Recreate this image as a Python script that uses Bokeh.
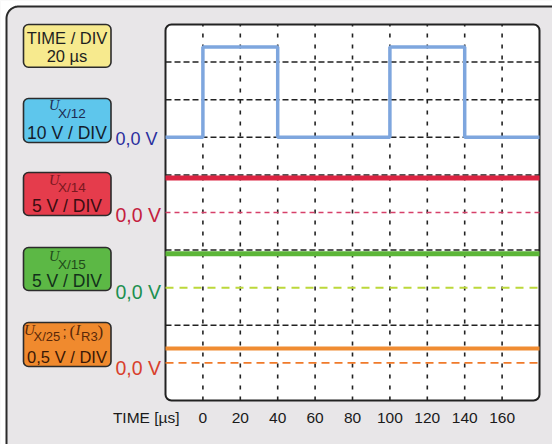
import math
from bokeh.plotting import figure
from bokeh.models import Range1d
from bokeh.core.properties import value
from bokeh.embed import file_html
from bokeh.resources import INLINE

# ---------------- data ----------------
time_ticks = [0, 20, 40, 60, 80, 100, 120, 140, 160]          # µs
time_tick_labels = ["0", "20", "40", "60", "80", "100", "120", "140", "160"]
t_min, t_max = -20, 180                                         # µs, screen span
time_per_div = 20                                               # µs / DIV

# channel U_X/12 (square wave)
u_x12_t = [-20, 0, 40, 100, 140, 180]
u_x12_v = [0, 24, 0, 24, 0, 0]                                  # V
# channels U_X/14, U_X/15, U_X/25 (constant levels)
u_x14_t = [-20, 180]
u_x14_v = [4.6, 4.6]                                            # V
u_x15_t = [-20, 180]
u_x15_v = [4.5, 4.5]                                            # V
u_x25_t = [-20, 180]
u_x25_v = [0.19, 0.19]                                          # V

volts_per_div = [10, 5, 5, 0.5]     # X/12, X/14, X/15, X/25
zero_div = [7, 5, 3, 1]             # zero-line position in divisions from bottom
scale_labels = ["10 V / DIV", "5 V / DIV", "5 V / DIV", "0,5 V / DIV"]
zero_labels = ["0,0 V", "0,0 V", "0,0 V", "0,0 V"]

# ---------------- geometry helpers (pixel -> data) ----------------
W, H = 552, 444
FL, FR, FT, FB = 165, 539, 24, 400          # scope frame in pixels
def X(px):
    return t_min + (px - FL) * (t_max - t_min) / (FR - FL)
def Y(py):
    return (FB - py) * 10 / (FB - FT)
def TY(py):                                   # text baseline correction
    return Y(py - 6)

p = figure(width=W, height=H, output_backend="svg", toolbar_location=None,
           x_range=Range1d(X(0), X(W)), y_range=Range1d(Y(H), Y(0)),
           x_axis_type=None, y_axis_type=None, min_border=0,
           background_fill_color="#e8e6e8", border_fill_color="#e8e6e8",
           outline_line_color=None)
p.xgrid.visible = False
p.ygrid.visible = False

SANS = value("Liberation Sans")
SERIF = value("Liberation Serif")

# white margin (top / left) with the outer panel's rounded border
R = 12
arc_px = [(6 + R - R * math.cos(a * math.pi / 40), 6 + R - R * math.sin(a * math.pi / 40))
          for a in range(0, 21)]
border_px = [(6, H + 5)] + arc_px + [(W + 5, 6)]
white_px = [(-5, H + 5)] + border_px + [(W + 5, -5), (-5, -5)]
p.patch([X(a) for a, b in white_px], [Y(b) for a, b in white_px],
        fill_color="white", line_color=None)
p.line([X(a) for a, b in border_px], [Y(b) for a, b in border_px],
       line_color="#2a2a2a", line_width=2)

# scope screen
p.quad(left=[t_min], right=[t_max], top=[10], bottom=[0],
       fill_color="white", line_color="#222222", line_width=2, border_radius=6)

# vertical grid
p.segment(x0=time_ticks, x1=time_ticks, y0=[0]*len(time_ticks), y1=[10]*len(time_ticks),
          line_color="#222222", line_width=1.6, line_dash="4 7")
# horizontal grid (black), skipping the coloured zero lines
hgrid = [d for d in range(1, 10) if d not in zero_div[1:]]
p.segment(x0=[t_min]*len(hgrid), x1=[t_max]*len(hgrid), y0=hgrid, y1=hgrid,
          line_color="#222222", line_width=1.5, line_dash="6 3")

# coloured zero lines
p.line([t_min, t_max], [zero_div[1]]*2, line_color="#d6406a", line_width=1.5, line_dash="5 4")
p.line([t_min, t_max], [zero_div[2]]*2, line_color="#bcd83a", line_width=2, line_dash="8 6")
p.line([t_min, t_max], [zero_div[3]]*2, line_color="#f07a2a", line_width=1.6, line_dash="8 5")

# traces
p.step(u_x12_t, [zero_div[0] + v / volts_per_div[0] for v in u_x12_v], mode="after",
       line_color="#7ea6de", line_width=3.5)
p.line(u_x14_t, [zero_div[1] + v / volts_per_div[1] for v in u_x14_v],
       line_color="#dc2442", line_width=5)
p.line(u_x15_t, [zero_div[2] + v / volts_per_div[2] for v in u_x15_v],
       line_color="#5cb638", line_width=5)
p.line(u_x25_t, [zero_div[3] + v / volts_per_div[3] for v in u_x25_v],
       line_color="#f08c32", line_width=4)

# time tick labels
p.text(x=time_ticks, y=[TY(423)]*len(time_ticks), text=time_tick_labels,
       text_font=SANS, text_font_size="15.5px", text_align="center",
       text_baseline="alphabetic", text_color="#1a1a1a")
p.text(x=[X(179)], y=[TY(423)], text=["TIME [µs]"], text_font=SANS,
       text_font_size="15.5px", text_align="right", text_baseline="alphabetic",
       text_color="#1a1a1a")

# label boxes
box_tops = [24, 98, 172, 247, 322]
box_bots = [66.7, 142, 215, 290, 366]
box_fill = ["#f7ea8e", "#5ec6ec", "#e53c4c", "#5cb845", "#f08a2e"]
p.quad(left=[X(23)]*5, right=[X(110.5)]*5, top=[Y(t) for t in box_tops],
       bottom=[Y(b) for b in box_bots], fill_color=box_fill,
       line_color="#2b2b2b", line_width=1.6, border_radius=5)

# TIME / DIV box text
p.text(x=[X(66.5), X(66.5)], y=[TY(43.5), TY(61)], text=["TIME / DIV", f"{time_per_div} µs"],
       text_font=SANS, text_font_size="16.5px", text_align="center",
       text_baseline="alphabetic", text_color="#1f1f1f")

# channel name lines (U with subscript)
u_col = ["#1d2b52", "#7a1820", "#1f4a1a"]
u_base = [110.7, 185, 261.7]
sub_base = [119.3, 192.7, 270]
subs = ["X/12", "X/14", "X/15"]
for i in range(3):
    p.text(x=[X(48.5)], y=[TY(u_base[i])], text=["U"], text_font=SERIF,
           text_font_style="italic", text_font_size="14.5px",
           text_baseline="alphabetic", text_color=u_col[i])
    p.text(x=[X(57.5)], y=[TY(sub_base[i])], text=[subs[i]], text_font=SANS,
           text_font_size="13.5px", text_baseline="alphabetic", text_color=u_col[i])

oc = "#5a2808"
p.text(x=[X(23.5)], y=[TY(335.5)], text=["U"], text_font=SERIF, text_font_style="italic",
       text_font_size="15px", text_baseline="alphabetic", text_color=oc)
p.text(x=[X(33)], y=[TY(341.5)], text=["X/25"], text_font=SANS, text_font_size="13px",
       text_baseline="alphabetic", text_color=oc)
p.text(x=[X(62)], y=[TY(337)], text=[";"], text_font=SANS, text_font_size="15px",
       text_baseline="alphabetic", text_color=oc)
p.text(x=[X(69)], y=[TY(337)], text=["("], text_font=SERIF, text_font_size="17px",
       text_baseline="alphabetic", text_color=oc)
p.text(x=[X(75)], y=[TY(335.5)], text=["I"], text_font=SERIF, text_font_style="italic",
       text_font_size="15px", text_baseline="alphabetic", text_color=oc)
p.text(x=[X(80.5)], y=[TY(341.5)], text=["R3"], text_font=SANS, text_font_size="13px",
       text_baseline="alphabetic", text_color=oc)
p.text(x=[X(97)], y=[TY(337)], text=[")"], text_font=SERIF, text_font_size="17px",
       text_baseline="alphabetic", text_color=oc)

# scale lines
scale_base = [138.5, 211.7, 286.7, 362.7]
scale_col = ["#141c2c", "#3a0c10", "#12301a", "#3a1806"]
scale_size = ["17.5px", "17.5px", "17.5px", "16.5px"]
for i in range(4):
    p.text(x=[X(66.5)], y=[TY(scale_base[i])], text=[scale_labels[i]], text_font=SANS,
           text_font_size=scale_size[i], text_align="center", text_baseline="alphabetic",
           text_color=scale_col[i])

# zero labels
zl_base = [144, 220, 297, 373.5]
zl_col = ["#2b2f9e", "#c4203e", "#1c9050", "#d8402c"]
zl_size = ["18px", "19.5px", "19.5px", "19.5px"]
for i in range(4):
    p.text(x=[X(115)], y=[TY(zl_base[i])], text=[zero_labels[i]], text_font=SANS,
           text_font_size=zl_size[i], text_baseline="alphabetic", text_color=zl_col[i])

open("out.html", "w").write(file_html(p, INLINE))
